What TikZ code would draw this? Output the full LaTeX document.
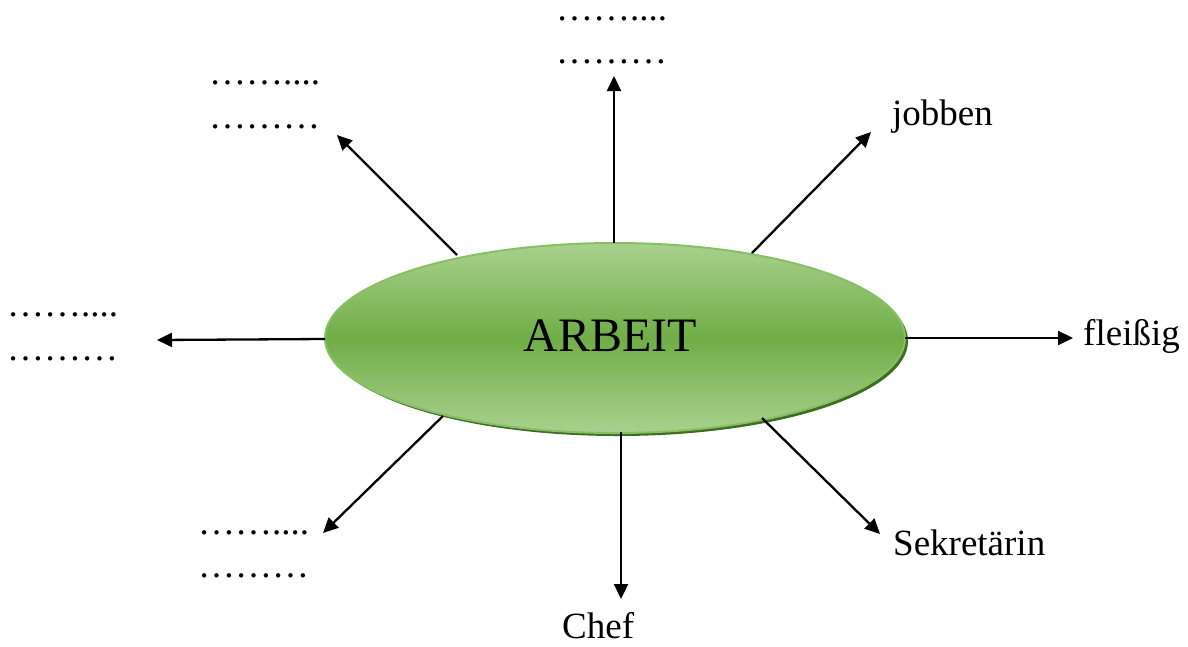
\documentclass[tikz,border=0pt]{standalone}
\usepackage{fontspec}
\setmainfont{Liberation Serif}
\usetikzlibrary{arrows.meta,shapes.geometric}
\definecolor{gLight}{HTML}{A9D18E}
\definecolor{gMid}{HTML}{70AD47}
\definecolor{gEdge}{HTML}{86C062}
\definecolor{gShadow}{HTML}{3F6B22}
\tikzset{
  conn/.style={line width=2.3pt,-{Triangle[length=15pt,width=14pt]}},
  lbl/.style={anchor=base west,inner sep=0pt,font=\fontsize{37}{40}\selectfont},
  dots/.style={lbl,text height=5pt},
  hub/.style={ellipse,minimum width=580pt,minimum height=190pt,inner sep=0pt,
    draw=gEdge,line width=2pt,top color=gLight,bottom color=gLight,middle color=gMid,
    font=\fontsize{48}{52}\selectfont}
}
\begin{document}
\begin{tikzpicture}[x=1pt,y=-1pt]
\useasboundingbox (0,0) rectangle (1188,646);
% shadow
\fill[gShadow] (618,341) ellipse [x radius=290,y radius=95];
\node[hub] (E) at (615,338) {};
\node[font=\fontsize{48}{52}\selectfont,inner sep=0pt,anchor=base] (Et) at (610,351) {ARBEIT};
% start points on the ellipse border
\coordinate (sU) at (614,243);
\coordinate (sUL) at (457,255);
\coordinate (sUR) at (752,253);
\coordinate (sL) at (325,339);
\coordinate (sR) at (905,338);
\coordinate (sLL) at (443,416);
\coordinate (sD) at (621,432);
\coordinate (sLR) at (762,418);
% end points
\coordinate (eU) at (614,76);
\coordinate (eUL) at (337,135);
\coordinate (eUR) at (871,132);
\coordinate (eL) at (157,340);
\coordinate (eR) at (1073,338);
\coordinate (eLL) at (323,533);
\coordinate (eD) at (621,599);
\coordinate (eLR) at (880,534);
\foreach \d in {U,UL,UR,L,R,LL,D,LR} \draw[conn] (s\d) -- (e\d);
% labels
\node[dots] (tUa) at (556,20) {……....};
\node[dots] (tUb) at (556,63) {………};
\node[dots] (tULa) at (209,84) {……....};
\node[dots] (tULb) at (209,128) {………};
\node[dots] (tLa) at (7,316) {……....};
\node[dots] (tLb) at (7,360) {………};
\node[dots] (tLLa) at (198,534) {……....};
\node[dots] (tLLb) at (198,577) {………};
\node[lbl] (tUR) at (892,125) {jobben};
\node[lbl] (tR) at (1083,345) {fleißig};
\node[lbl] (tLR) at (893,555) {Sekretärin};
\node[lbl] (tD) at (562,638) {Chef};
\end{tikzpicture}
\end{document}
